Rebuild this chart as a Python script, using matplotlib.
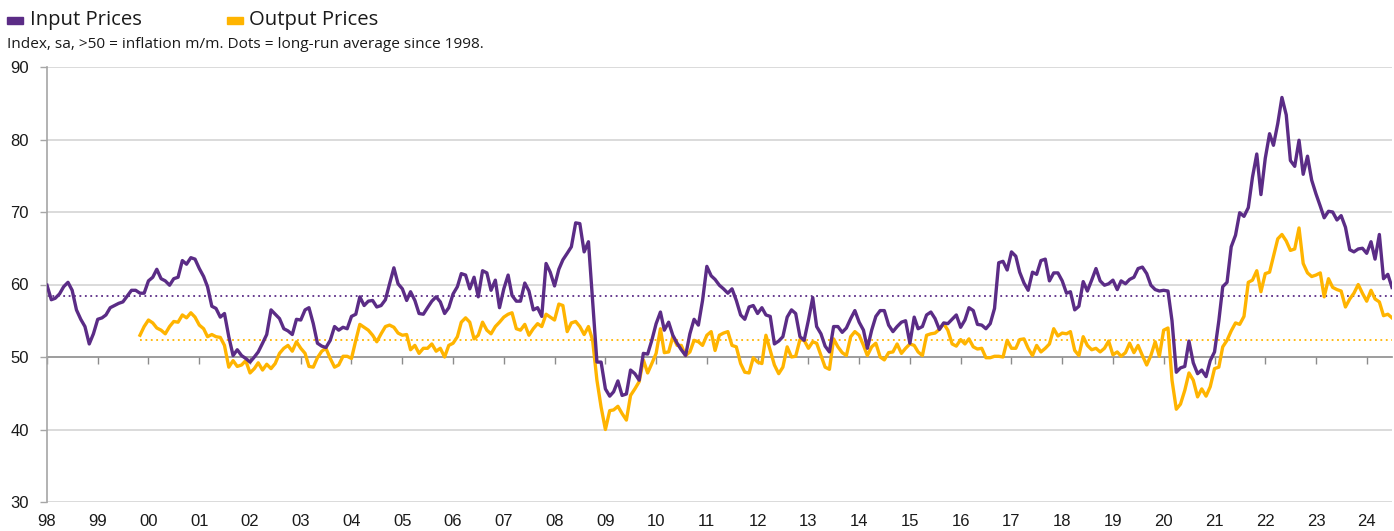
import pandas as pd
import matplotlib
matplotlib.use('Agg')
import matplotlib.pyplot as plt
import matplotlib.dates as mdates
from matplotlib.patches import Rectangle

# monthly, Jan 1998 - Jul 2024
input_prices = [
    59.9, 57.9, 58.1, 58.7, 59.7, 60.3, 59.2, 56.5, 55.2, 54.2, 51.8, 53.2,  # 98
    55.2, 55.4, 55.8, 56.8, 57.1, 57.4, 57.6, 58.4, 59.2, 59.2, 58.8, 58.8,  # 99
    60.5, 61.0, 62.1, 60.8, 60.5, 59.9, 60.8, 61.0, 63.3, 62.8, 63.7, 63.5,  # 00
    62.2, 61.1, 59.7, 57.0, 56.7, 55.5, 56.0, 52.8, 50.2, 51.0, 50.2, 49.8,  # 01
    49.3, 50.0, 50.7, 51.9, 53.1, 56.5, 55.9, 55.3, 53.9, 53.6, 53.1, 55.2,  # 02
    55.1, 56.5, 56.8, 54.6, 51.9, 51.5, 51.3, 52.3, 54.2, 53.7, 54.1, 53.9,  # 03
    55.6, 55.9, 58.3, 57.1, 57.7, 57.8, 56.9, 57.1, 57.9, 60.1, 62.3, 60.1,  # 04
    59.4, 57.8, 59.0, 57.8, 56.0, 55.9, 56.8, 57.7, 58.3, 57.6, 56.0, 56.8,  # 05
    58.7, 59.7, 61.5, 61.3, 59.4, 61.0, 58.3, 61.9, 61.6, 59.2, 60.6, 56.8,  # 06
    59.4, 61.3, 58.5, 57.7, 57.7, 60.2, 59.1, 56.5, 56.8, 55.6, 62.9, 61.7,  # 07
    59.8, 62.1, 63.4, 64.3, 65.2, 68.5, 68.4, 64.5, 65.9, 57.8, 49.3, 49.3,  # 08
    45.6, 44.6, 45.2, 46.7, 44.7, 44.9, 48.2, 47.7, 46.8, 50.5, 50.4, 52.3,  # 09
    54.6, 56.2, 53.7, 54.8, 53.0, 51.9, 51.0, 50.2, 53.2, 55.2, 54.4, 57.8,  # 10
    62.5, 61.2, 60.7, 59.9, 59.4, 58.8, 59.4, 57.8, 55.8, 55.2, 56.9, 57.1,  # 11
    56.0, 56.8, 55.8, 55.6, 51.8, 52.2, 52.8, 55.5, 56.5, 56.0, 52.8, 52.3,  # 12
    55.1, 58.2, 54.2, 53.2, 51.5, 50.7, 54.2, 54.2, 53.4, 54.0, 55.3, 56.4,  # 13
    54.8, 53.7, 51.2, 53.7, 55.6, 56.4, 56.4, 54.4, 53.5, 54.2, 54.8, 55.0,  # 14
    51.9, 55.5, 53.9, 54.2, 55.8, 56.2, 55.3, 53.8, 54.7, 54.6, 55.2, 55.8,  # 15
    54.1, 55.1, 56.8, 56.4, 54.5, 54.4, 53.9, 54.6, 56.7, 63.0, 63.2, 62.0,  # 16
    64.5, 63.9, 61.7, 60.2, 59.2, 61.7, 61.4, 63.3, 63.5, 60.5, 61.6, 61.6,  # 17
    60.5, 58.8, 59.0, 56.5, 57.0, 60.4, 59.1, 60.6, 62.2, 60.5, 59.9, 60.1,  # 18
    60.6, 59.3, 60.5, 60.1, 60.7, 61.0, 62.2, 62.4, 61.5, 59.9, 59.3, 59.1,  # 19
    59.2, 59.1, 55.0, 47.9, 48.5, 48.7, 52.2, 49.2, 47.7, 48.2, 47.3, 49.5,  # 20
    50.7, 55.0, 59.7, 60.3, 65.2, 66.8, 69.9, 69.4, 70.6, 74.8, 78.0, 72.4,  # 21
    77.4, 80.8, 79.2, 82.2, 85.8, 83.4, 77.1, 76.3, 79.9, 75.2, 77.7, 74.4,  # 22
    72.5, 70.8, 69.2, 70.1, 70.0, 68.9, 69.5, 67.9, 64.8, 64.5, 64.9, 65.0,  # 23
    64.3, 65.9, 63.5, 66.9, 60.8, 61.4, 59.6,                                # 24
]

# monthly, Nov 1999 - Jul 2024
output_prices = [
    53.0, 54.2,                                                              # 99
    55.1, 54.7, 54.0, 53.7, 53.2, 54.2, 54.9, 54.8, 55.8, 55.4, 56.1, 55.5,  # 00
    54.4, 53.9, 52.8, 53.1, 52.8, 52.7, 51.6, 48.6, 49.5, 48.7, 48.9, 49.5,  # 01
    47.8, 48.4, 49.2, 48.2, 49.0, 48.4, 49.1, 50.5, 51.2, 51.6, 50.8, 52.1,  # 02
    51.2, 50.5, 48.7, 48.6, 49.9, 50.8, 51.2, 49.8, 48.6, 48.9, 50.1, 50.1,  # 03
    49.8, 52.3, 54.5, 54.1, 53.7, 53.0, 52.1, 53.2, 54.2, 54.4, 54.1, 53.3,  # 04
    53.0, 53.1, 51.0, 51.6, 50.5, 51.2, 51.2, 51.8, 50.8, 51.2, 50.0, 51.6,  # 05
    51.9, 52.8, 54.8, 55.4, 54.8, 52.5, 53.0, 54.8, 53.7, 53.2, 54.2, 54.8,  # 06
    55.5, 55.9, 56.1, 53.9, 53.7, 54.5, 53.0, 53.9, 54.6, 54.2, 55.9, 55.5,  # 07
    55.1, 57.3, 57.1, 53.5, 54.7, 54.9, 54.2, 53.1, 54.2, 52.3, 46.8, 43.1,  # 08
    40.0, 42.6, 42.7, 43.2, 42.2, 41.3, 44.7, 45.6, 46.6, 49.6, 47.8, 49.1,  # 09
    50.5, 53.9, 50.6, 50.7, 52.8, 51.6, 51.6, 50.2, 50.7, 52.3, 52.1, 51.6,  # 10
    53.0, 53.5, 50.9, 53.0, 53.3, 53.5, 51.6, 51.4, 49.1, 47.9, 47.8, 49.9,  # 11
    49.3, 49.1, 53.0, 50.9, 48.9, 47.7, 48.6, 51.4, 50.0, 50.1, 52.4, 52.3,  # 12
    51.2, 52.1, 51.9, 50.2, 48.6, 48.3, 52.5, 51.4, 50.6, 50.2, 52.8, 53.5,  # 13
    53.0, 51.6, 50.2, 51.4, 51.9, 50.0, 49.6, 50.6, 50.7, 51.8, 50.5, 51.2,  # 14
    51.8, 51.6, 50.7, 50.2, 53.0, 53.2, 53.3, 53.8, 54.6, 53.7, 51.8, 51.5,  # 15
    52.4, 51.8, 52.5, 51.4, 51.1, 51.2, 49.9, 49.9, 50.1, 50.1, 50.0, 52.3,  # 16
    51.2, 51.2, 52.4, 52.5, 51.2, 50.2, 51.6, 50.7, 51.2, 51.8, 53.9, 52.9,  # 17
    53.3, 53.2, 53.5, 50.9, 50.2, 52.8, 51.6, 51.0, 51.2, 50.7, 51.2, 52.2,  # 18
    50.3, 50.7, 50.1, 50.6, 51.9, 50.6, 51.6, 50.2, 48.9, 50.2, 52.1, 50.1,  # 19
    53.7, 54.0, 46.8, 42.8, 43.5, 45.4, 47.8, 46.8, 44.5, 45.6, 44.6, 45.9,  # 20
    48.4, 48.6, 51.4, 52.3, 53.6, 54.7, 54.5, 55.6, 60.3, 60.6, 61.9, 59.0,  # 21
    61.5, 61.7, 63.9, 66.3, 66.9, 66.0, 64.7, 64.9, 67.8, 62.9, 61.6, 61.1,  # 22
    61.3, 61.6, 58.3, 60.8, 59.6, 59.3, 59.1, 56.9, 58.0, 58.8, 60.0, 58.8,  # 23
    57.7, 59.2, 58.0, 57.6, 55.7, 55.9, 55.4,                                # 24
]

# long-run averages (dotted lines)
input_avg = 58.4
output_avg = 52.4

purple = '#5b2c86'
orange = '#ffb400'

in_dates = pd.date_range('1998-01-01', periods=len(input_prices), freq='MS')
out_dates = pd.date_range('1999-11-01', periods=len(output_prices), freq='MS')

fig = plt.figure(figsize=(13.94, 5.31), dpi=100)
ax = fig.add_axes([47 / 1394, 1 - 502 / 531, 1345 / 1394, 435 / 531])

ax.set_ylim(30, 90)
ax.set_yticks(range(30, 91, 10))
ax.set_xlim(in_dates[0], in_dates[-1])

for v in range(30, 91, 10):
    if v != 50:
        ax.axhline(v, color='#d4d4d4', lw=1.2, zorder=0)

ax.plot(in_dates, [input_avg] * len(in_dates), color=purple, lw=1.3, ls=(0, (1, 2)), zorder=2)
ax.plot(out_dates, [output_avg] * len(out_dates), color=orange, lw=1.3, ls=(0, (1, 2)), zorder=2)

ax.plot(out_dates, output_prices, color=orange, lw=2.4, zorder=3, solid_joinstyle='round')
ax.plot(in_dates, input_prices, color=purple, lw=2.4, zorder=4, solid_joinstyle='round')

for s in ['top', 'right']:
    ax.spines[s].set_visible(False)
ax.spines['left'].set_color('#a6a6a6')
ax.spines['left'].set_linewidth(1.2)
ax.spines['bottom'].set_position(('data', 50))
ax.spines['bottom'].set_color('#8c8c8c')
ax.spines['bottom'].set_linewidth(1.2)
ax.spines['bottom'].set_zorder(1)

ax.xaxis.set_major_locator(mdates.YearLocator())
ax.tick_params(axis='x', direction='out', length=5, width=1, color='#8c8c8c', labelbottom=False)
ax.tick_params(axis='y', direction='out', length=5, width=1, color='#a6a6a6', pad=8,
               labelsize=12, labelcolor='#1a1a1a')
for lab in ax.get_yticklabels():
    lab.set_fontfamily('Liberation Sans')

years = pd.date_range('1998-01-01', '2024-01-01', freq='YS')
for d in years:
    ax.text(d, -0.027, d.strftime('%y'), transform=ax.get_xaxis_transform(),
            ha='center', va='top', fontsize=12, family='Liberation Sans', color='#1a1a1a')

# legend and note
fig.patches.append(Rectangle((7 / 1394, 1 - 24 / 531), 16 / 1394, 7 / 531,
                             transform=fig.transFigure, color=purple))
fig.patches.append(Rectangle((227 / 1394, 1 - 24 / 531), 16 / 1394, 7 / 531,
                             transform=fig.transFigure, color=orange))
fig.text(30 / 1394, 1 - 20 / 531, 'Input Prices', fontsize=14.6, family='Open Sans',
         va='center', color='#1a1a1a')
fig.text(249 / 1394, 1 - 20 / 531, 'Output Prices', fontsize=14.6, family='Open Sans',
         va='center', color='#1a1a1a')
fig.text(7 / 1394, 1 - 45 / 531, 'Index, sa, >50 = inflation m/m. Dots = long-run average since 1998.',
         fontsize=11.1, family='Open Sans', va='center', color='#1a1a1a')

fig.savefig('out.png', dpi=100)
